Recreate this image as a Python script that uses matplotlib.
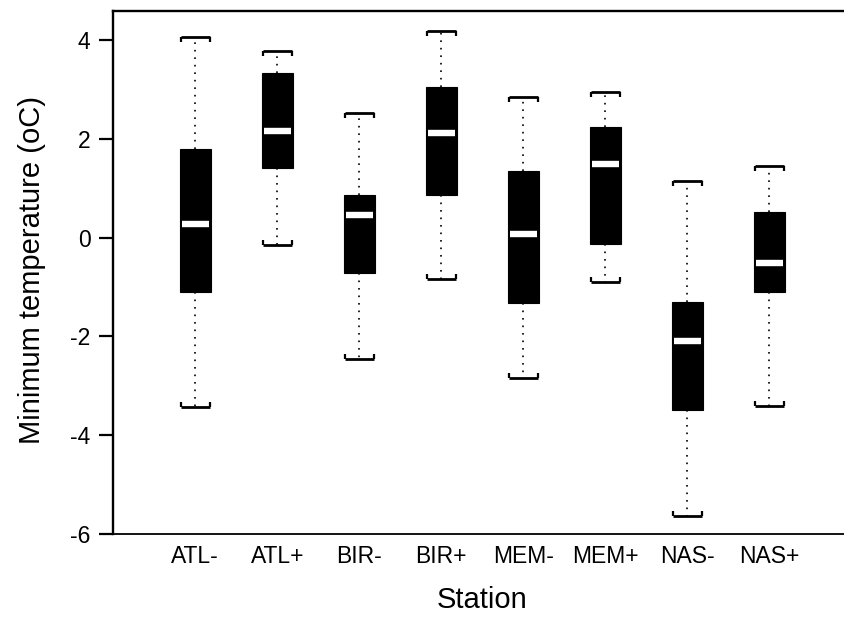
import matplotlib
matplotlib.use('Agg')
import matplotlib.pyplot as plt

plt.rcParams['font.family'] = ['Liberation Sans', 'DejaVu Sans']

stations = ['ATL-', 'ATL+', 'BIR-', 'BIR+', 'MEM-', 'MEM+', 'NAS-', 'NAS+']
whisker_low = [-3.43, -0.15, -2.45, -0.84, -2.85, -0.89, -5.64, -3.41]
q1 = [-1.11, 1.42, -0.72, 0.87, -1.33, -0.13, -3.49, -1.11]
median = [0.28, 2.16, 0.46, 2.13, 0.08, 1.49, -2.09, -0.51]
q3 = [1.80, 3.33, 0.87, 3.06, 1.36, 2.25, -1.31, 0.53]
whisker_high = [4.06, 3.79, 2.53, 4.18, 2.86, 2.96, 1.14, 1.46]
yticks = [-6, -4, -2, 0, 2, 4]

W, H = 844, 619
fig = plt.figure(figsize=(W / 100, H / 100), dpi=100)
ax = fig.add_axes([113.3 / W, (H - 534.3) / H, 738 / W, 523.6 / H])

positions = list(range(1, len(stations) + 1))
stats = [dict(label=s, whislo=lo, q1=a, med=m, q3=b, whishi=hi, fliers=[])
         for s, lo, a, m, b, hi in zip(stations, whisker_low, q1, median, q3, whisker_high)]

box_w = 0.38
cap_w = 0.36
ax.bxp(stats, positions=positions, widths=box_w, patch_artist=True, showfliers=False,
       boxprops=dict(facecolor='black', edgecolor='black', linewidth=0.8),
       whiskerprops=dict(color='black', linestyle=(0, (1, 3.5)), linewidth=1.2),
       capprops=dict(color='black', linewidth=2.0, solid_capstyle='butt'),
       capwidths=cap_w,
       medianprops=dict(linewidth=0))

# bracket-like ends of the staples
d = 0.1
for p, lo, hi in zip(positions, whisker_low, whisker_high):
    ax.vlines([p - cap_w / 2, p + cap_w / 2], hi - d, hi, colors='black', linewidth=1.6)
    ax.vlines([p - cap_w / 2, p + cap_w / 2], lo, lo + d, colors='black', linewidth=1.6)

# white median bars
ax.hlines(median, [p - 0.163 for p in positions], [p + 0.163 for p in positions],
          colors='white', linewidth=4.6)

ax.set_xlim(0, 9)
ax.set_ylim(-6.01, 4.60)
ax.set_yticks(yticks)
ax.set_yticklabels([str(t) for t in yticks])
ax.set_xticks(positions)
ax.set_xticklabels(stations)

ax.tick_params(axis='y', length=10, width=1.6, pad=6.5, labelsize=16.5)
ax.tick_params(axis='x', length=0, pad=7.5, labelsize=16.5)

for side in ['left', 'top']:
    ax.spines[side].set_linewidth(1.7)
ax.spines['bottom'].set_linewidth(1.3)
ax.spines['right'].set_linewidth(1.5)

ax.set_xlabel('Station', fontsize=21)
ax.xaxis.set_label_coords(0.5, (534.3 - 600) / 523.6)
ax.xaxis.label.set_va('center')

ax.set_ylabel('Minimum temperature (oC)', fontsize=21)
ax.yaxis.label.set_va('center')
ax.yaxis.set_label_coords((32 - 113.3) / 738, 0.505)

fig.savefig('out.png', dpi=100)
